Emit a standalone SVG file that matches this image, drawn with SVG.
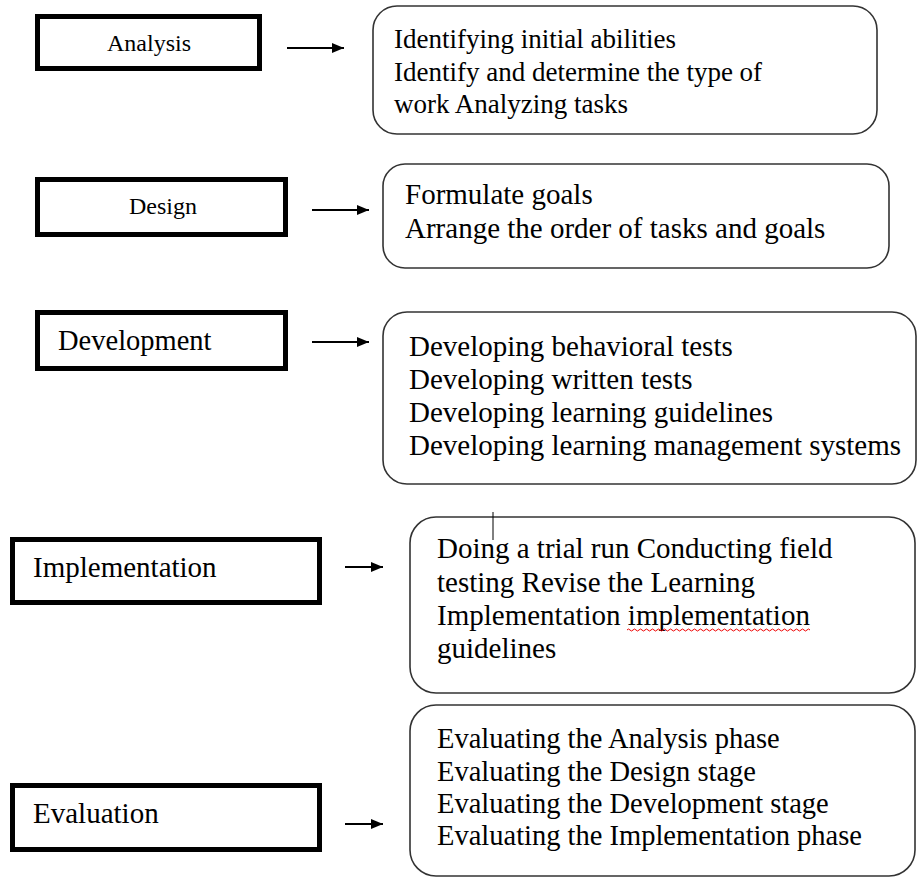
<svg xmlns="http://www.w3.org/2000/svg" width="917" height="879" viewBox="0 0 917 879">
<defs>
<style>
.phase{fill:#fff;stroke:#000;stroke-width:5}
.detail{fill:#fff;stroke:#333;stroke-width:1.6}
text{font-family:"Liberation Serif","Times New Roman",serif;fill:#000}
.lbl{font-size:29px}
.small{font-size:24px}
.body{font-size:29px}
.b1{font-size:27px}
.conn line{stroke:#000;stroke-width:1.8}
</style>
<marker id="ah" viewBox="0 0 12 10" refX="12" refY="5" markerWidth="12" markerHeight="10" markerUnits="userSpaceOnUse" orient="auto">
<path d="M0,0 L12,5 L0,10 Z" fill="#000"/>
</marker>
</defs>
<rect width="917" height="879" fill="#fff"/>

<g id="analysis">
<rect class="phase" x="37.5" y="16.5" width="222" height="52"/>
<text class="small" x="149" y="51" text-anchor="middle">Analysis</text>
</g>
<g id="analysis-detail">
<rect class="detail" x="373" y="6" width="504" height="128" rx="24"/>
<text class="b1" x="394" y="48">Identifying initial abilities</text>
<text class="b1" x="394" y="81">Identify and determine the type of</text>
<text class="b1" x="394" y="113">work Analyzing tasks</text>
</g>

<g id="design">
<rect class="phase" x="37.5" y="179.5" width="248" height="55"/>
<text class="small" x="163" y="214" text-anchor="middle">Design</text>
</g>
<g id="design-detail">
<rect class="detail" x="383" y="164" width="506" height="104" rx="22"/>
<text class="body" x="405" y="204">Formulate goals</text>
<text class="body" x="405" y="238">Arrange the order of tasks and goals</text>
</g>

<g id="development">
<rect class="phase" x="37.5" y="312.5" width="248" height="56"/>
<text class="lbl" x="58" y="350" style="font-size:28.5px">Development</text>
</g>
<g id="development-detail">
<rect class="detail" x="383" y="312" width="533" height="172" rx="24"/>
<text class="body" x="409" y="356">Developing behavioral tests</text>
<text class="body" x="409" y="389">Developing written tests</text>
<text class="body" x="409" y="422">Developing learning guidelines</text>
<text class="body" x="409" y="455">Developing learning management systems</text>
</g>

<g id="implementation">
<rect class="phase" x="12.5" y="539.5" width="307" height="63"/>
<text class="lbl" x="33" y="577">Implementation</text>
</g>
<g id="implementation-detail">
<rect class="detail" x="410" y="517" width="505" height="176" rx="26"/>
<line x1="493" y1="512" x2="493" y2="540" stroke="#000" stroke-width="1"/>
<text class="body" x="437" y="558">Doing a trial run Conducting field</text>
<text class="body" x="437" y="592">testing Revise the Learning</text>
<text class="body" x="437" y="625">Implementation implementation</text>
<text class="body" x="437" y="658">guidelines</text>
<path d="M627,630 q1.5,-2 3,0 t3,0 t3,0 t3,0 t3,0 t3,0 t3,0 t3,0 t3,0 t3,0 t3,0 t3,0 t3,0 t3,0 t3,0 t3,0 t3,0 t3,0 t3,0 t3,0 t3,0 t3,0 t3,0 t3,0 t3,0 t3,0 t3,0 t3,0 t3,0 t3,0 t3,0 t3,0 t3,0 t3,0 t3,0 t3,0 t3,0 t3,0 t3,0 t3,0 t3,0 t3,0 t3,0 t3,0 t3,0 t3,0 t3,0 t3,0 t3,0 t3,0 t3,0 t3,0 t3,0 t3,0 t3,0 t3,0 t3,0 t3,0 t3,0 t3,0 t3,0" fill="none" stroke="#e00" stroke-width="1"/>
</g>

<g id="evaluation">
<rect class="phase" x="12.5" y="785.5" width="307" height="64"/>
<text class="lbl" x="33" y="823">Evaluation</text>
</g>
<g id="evaluation-detail">
<rect class="detail" x="410" y="705" width="505" height="171" rx="26"/>
<text class="body" x="437" y="748" style="font-size:28.5px">Evaluating the Analysis phase</text>
<text class="body" x="437" y="781" style="font-size:28.5px">Evaluating the Design stage</text>
<text class="body" x="437" y="813" style="font-size:28.5px">Evaluating the Development stage</text>
<text class="body" x="437" y="845" style="font-size:28.5px">Evaluating the Implementation phase</text>
</g>

<g id="connectors" class="conn">
<line x1="287" y1="48" x2="344" y2="48" marker-end="url(#ah)"/>
<line x1="312" y1="210" x2="369" y2="210" marker-end="url(#ah)"/>
<line x1="312" y1="342" x2="369" y2="342" marker-end="url(#ah)"/>
<line x1="345" y1="567" x2="383" y2="567" marker-end="url(#ah)"/>
<line x1="345" y1="824" x2="383" y2="824" marker-end="url(#ah)"/>
</g>
</svg>
